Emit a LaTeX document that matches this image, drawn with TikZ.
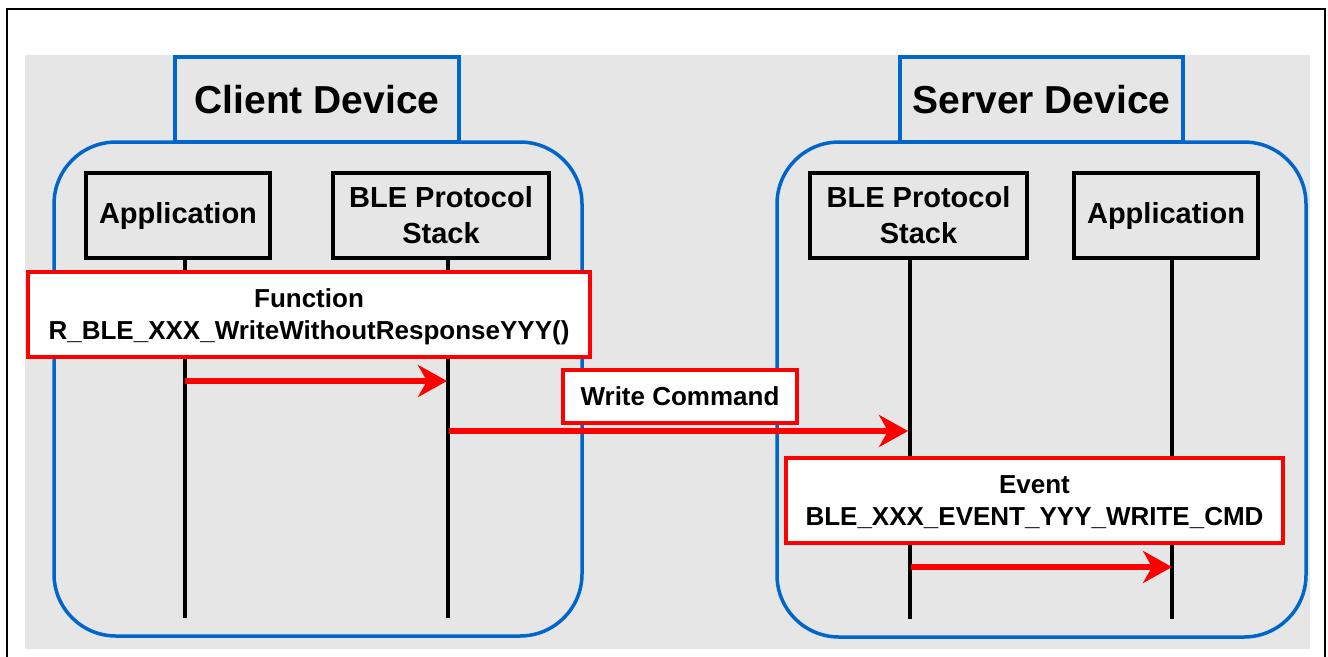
\documentclass[tikz,border=0pt]{standalone}
\usepackage{fontspec}
\setmainfont{Liberation Sans}
\usetikzlibrary{arrows.meta}
\definecolor{bggray}{HTML}{E6E6E6}
\definecolor{devblue}{HTML}{0066CC}
\definecolor{msgred}{HTML}{FF0000}
\tikzset{
  devtitle/.style={draw=devblue, line width=3.5pt, fill=bggray, inner sep=0pt,
    font=\fontsize{39}{45}\selectfont\bfseries, align=center},
  devbody/.style={draw=devblue, line width=3.5pt, rounded corners=62pt, inner sep=0pt},
  partbox/.style={draw=black, line width=4pt, inner sep=0pt, minimum height=85pt,
    font=\fontsize{29}{36}\selectfont\bfseries, align=center},
  callbox/.style={draw=msgred, fill=white, line width=4pt, inner sep=0pt,
    font=\fontsize{26}{32}\selectfont\bfseries, align=center},
  twoline/.style={text depth=-5pt},
  lifeline/.style={draw=black, line width=4pt},
  msgarrow/.style={draw=msgred, line width=5.5pt,
    -{Stealth[length=29pt, width=32pt, inset=9pt, fill=msgred]}},
  frameline/.style={draw=black, line width=2pt}
}
\begin{document}
\begin{tikzpicture}[x=1pt,y=-1pt]
\useasboundingbox (0,0) rectangle (1328,656);
% outer frame and background
\fill[bggray] (25,55) rectangle (1310,649);
\coordinate (fbl) at (7,660);
\coordinate (ftl) at (7,9);
\coordinate (ftr) at (1325,9);
\coordinate (fbr) at (1325,660);
\draw[frameline] (fbl) -- (ftl) -- (ftr) -- (fbr);

% client device
\node[devbody, minimum width=528pt, minimum height=494pt] (cbody) at (318,389) {};
\node[devtitle, minimum width=284pt, minimum height=85pt] (ctitle) at (317,99.5) {Client Device};
\node[partbox, minimum width=184pt] (capp) at (178,215.5) {Application};
\node[partbox, minimum width=216pt] (cble) at (441,215.5) {BLE Protocol\\Stack};

% server device
\node[devbody, minimum width=529pt, minimum height=495pt] (sbody) at (1041.5,389.5) {};
\node[devtitle, minimum width=283pt, minimum height=85pt] (stitle) at (1041.5,99.5) {Server Device};
\node[partbox, minimum width=217pt] (sble) at (918.5,215.5) {BLE Protocol\\Stack};
\node[partbox, minimum width=184pt] (sapp) at (1166,215.5) {Application};

% lifelines
\coordinate (l1t) at (185,258);  \coordinate (l1b) at (185,618);
\coordinate (l2t) at (448,258);  \coordinate (l2b) at (448,618);
\coordinate (l3t) at (910,258);  \coordinate (l3b) at (910,619);
\coordinate (l4t) at (1172,258); \coordinate (l4b) at (1172,619);
\draw[lifeline] (l1t) -- (l1b);
\draw[lifeline] (l2t) -- (l2b);
\draw[lifeline] (l3t) -- (l3b);
\draw[lifeline] (l4t) -- (l4b);

% call / message boxes
\node[callbox, twoline, minimum width=562pt, minimum height=85pt] (func) at (309,314.5)
  {Function\\R\_BLE\_XXX\_WriteWithoutResponseYYY()};
\node[callbox, minimum width=234pt, minimum height=53pt] (wcmd) at (680,396.5)
  {Write Command};
\node[callbox, twoline, minimum width=497pt, minimum height=85pt] (event) at (1034.5,500.5)
  {Event\\BLE\_XXX\_EVENT\_YYY\_WRITE\_CMD};

% arrows
\coordinate (a1s) at (185,381);  \coordinate (a1e) at (447,381);
\coordinate (a2s) at (449,431);  \coordinate (a2e) at (908,431);
\coordinate (a3s) at (911,567);  \coordinate (a3e) at (1172,567);
\draw[msgarrow] (a1s) -- (a1e);
\draw[msgarrow] (a2s) -- (a2e);
\draw[msgarrow] (a3s) -- (a3e);
\end{tikzpicture}
\end{document}
